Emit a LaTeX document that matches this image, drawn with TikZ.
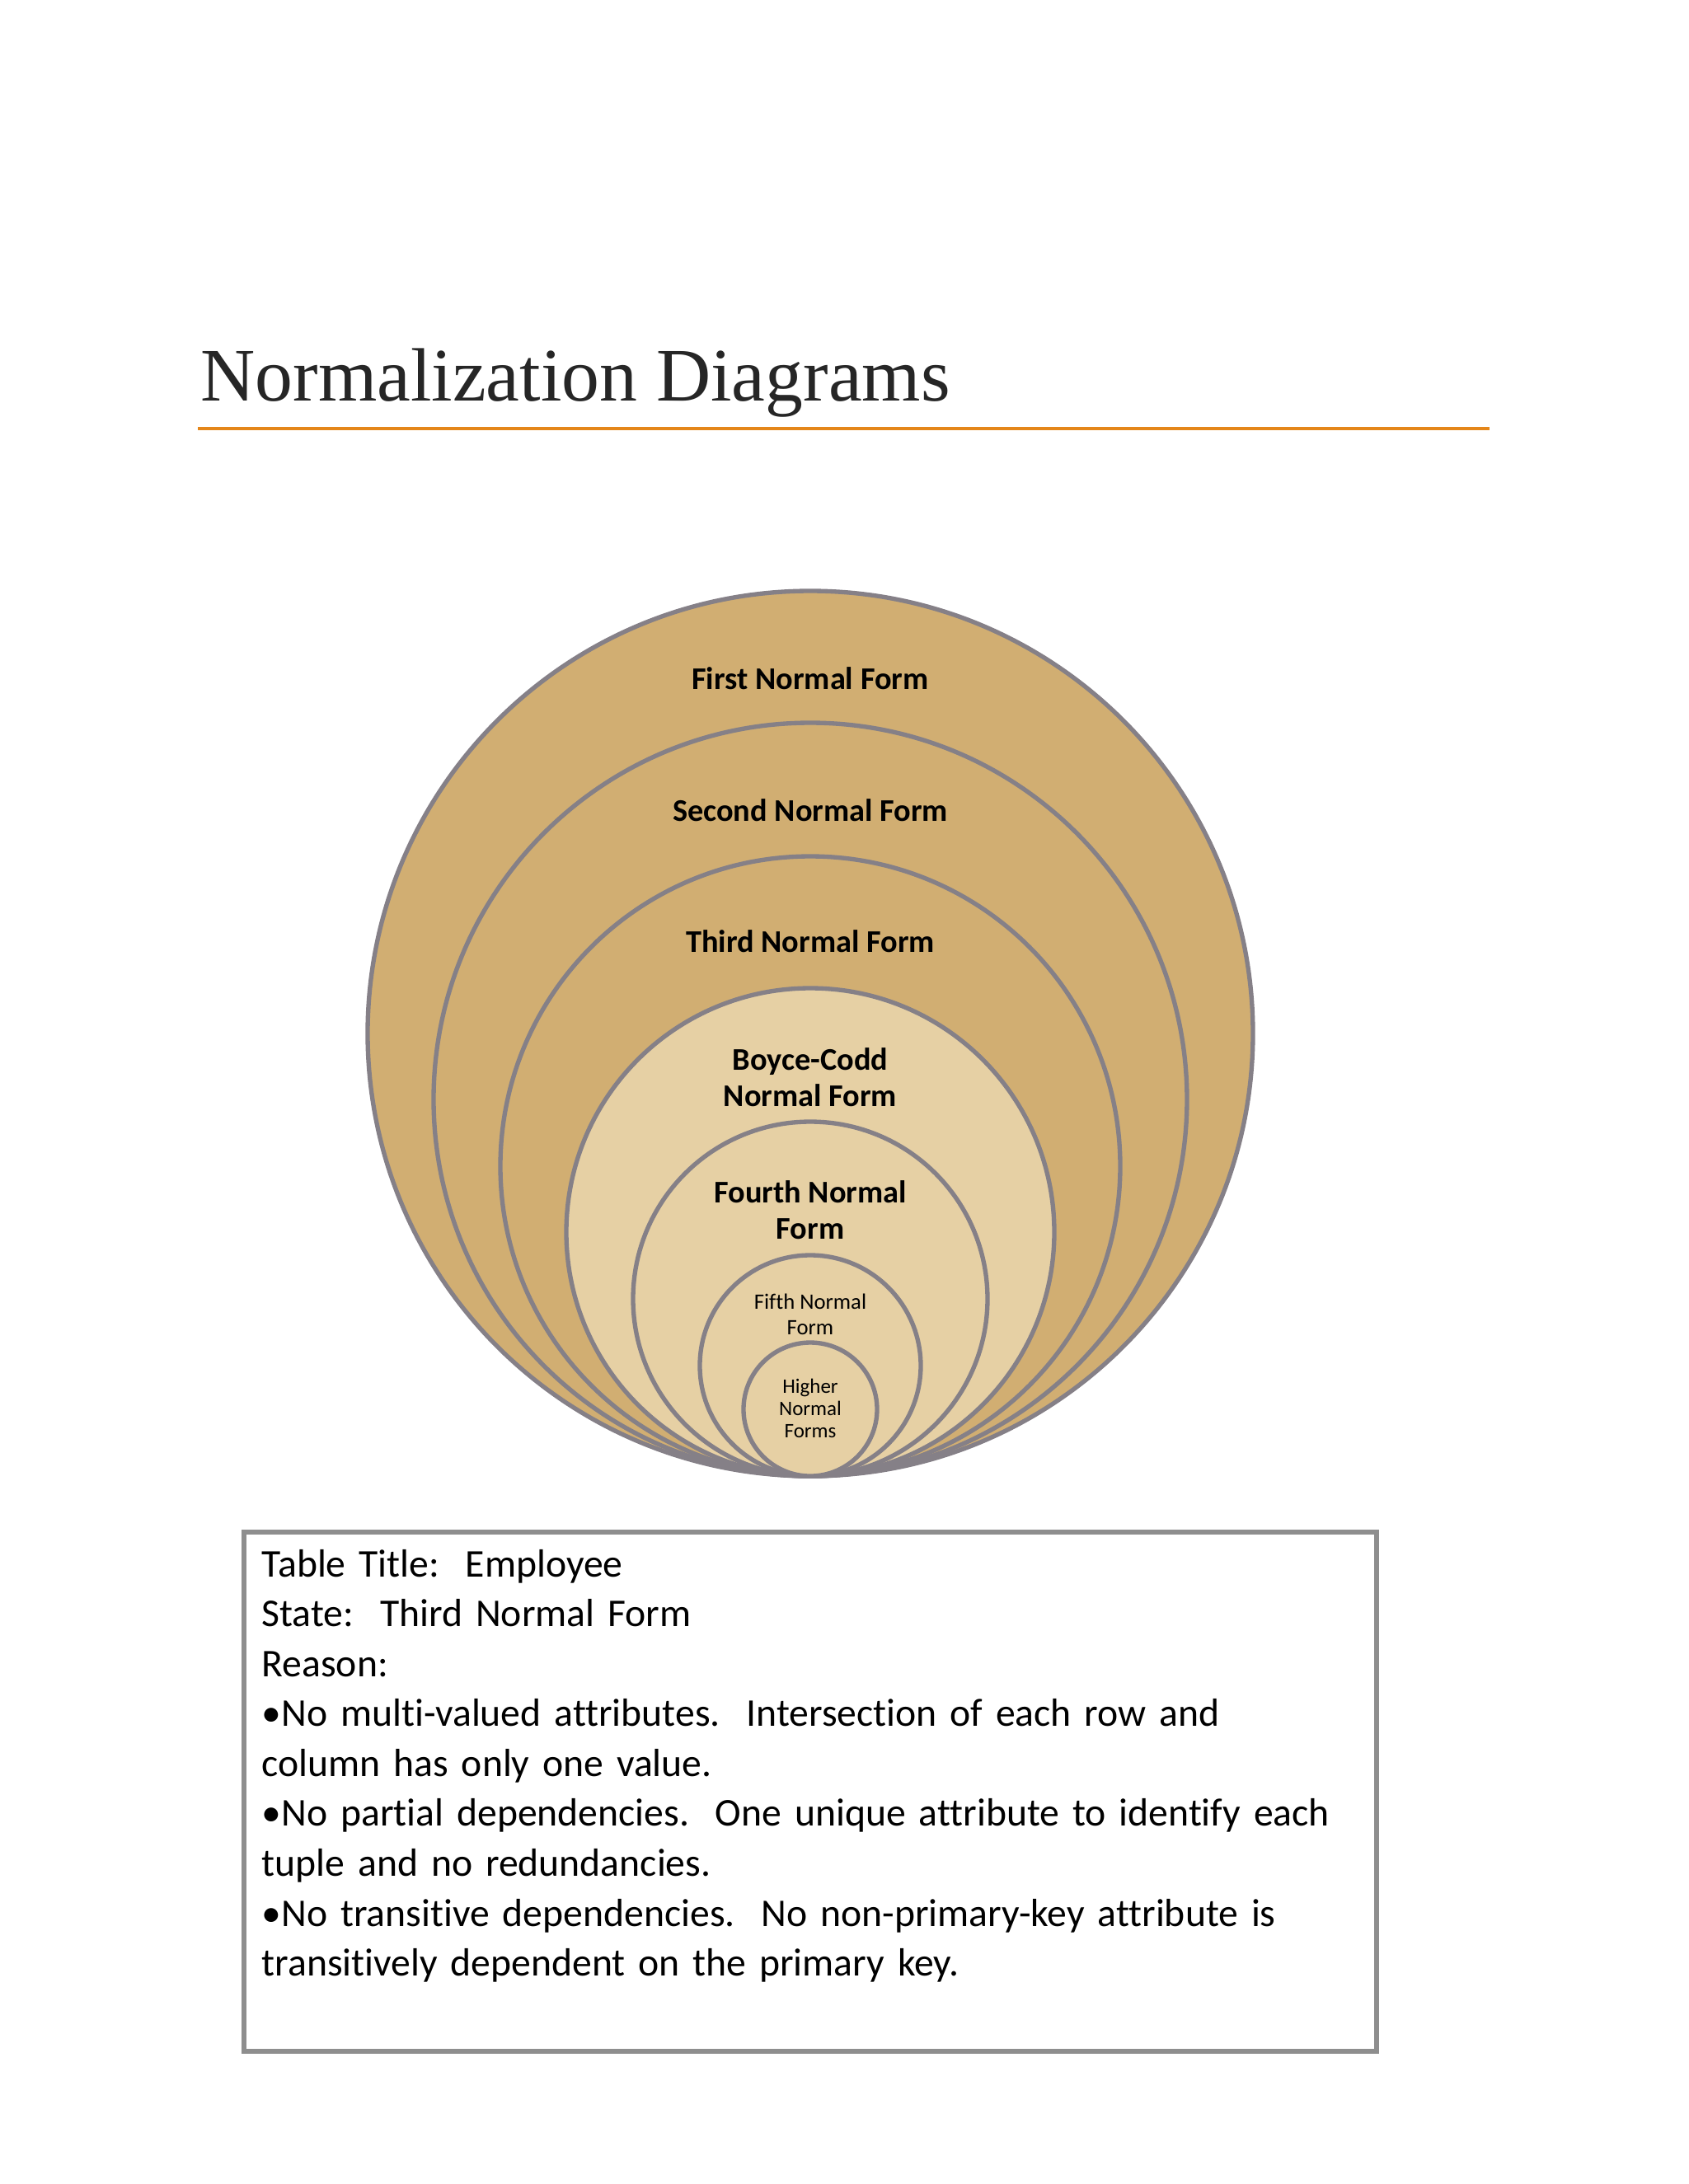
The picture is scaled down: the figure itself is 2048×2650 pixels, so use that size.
\documentclass[tikz,border=0pt]{standalone}
\usepackage{fontspec}
\newfontfamily\headfont{Liberation Serif}
\newfontfamily\bodyfont[Ligatures=NoCommon]{Carlito}
\definecolor{ruleorange}{HTML}{E4861A}
\definecolor{tandark}{HTML}{D1AE72}
\definecolor{tanlight}{HTML}{E6D0A4}
\definecolor{ringgray}{HTML}{858087}
\definecolor{boxgray}{HTML}{8E8E8E}

\begin{document}
\begin{tikzpicture}[x=0.0041504in, y=-0.0041504in,
		ring/.style={draw=ringgray, line width=1.6pt},
		lbl/.style={inner sep=0pt, align=center, font=\bodyfont\bfseries\fontsize{11.5}{13}\selectfont},
		smalllbl/.style={inner sep=0pt, align=center, font=\bodyfont\fontsize{8}{9.4}\selectfont},
		tinylbl/.style={inner sep=0pt, align=center, font=\bodyfont\fontsize{7.5}{8}\selectfont},
		infobox/.style={draw=boxgray, line width=1.8pt}]
	\useasboundingbox (0,0) rectangle (2048,2650);
	\pgfmathsetmacro{\cx}{983}
	\pgfmathsetmacro{\by}{1791}

	% heading
	\node[anchor=base west, inner sep=0pt, font=\headfont\fontsize{27.5}{30}\selectfont, text=black!85] (title) at (243,486) {Normalization Diagrams};
	\draw[ruleorange, line width=1pt] (240,520) coordinate (ruleL) -- (1807,520) coordinate (ruleR);

	% nested forms, all touching at the bottom
	\draw[ring, fill=tandark] (\cx,\by-537) circle (537);
	\draw[ring, fill=tandark] (\cx,\by-457) circle (457);
	\draw[ring, fill=tandark] (\cx,\by-376) circle (376);
	\draw[ring, fill=tanlight] (\cx,\by-296) circle (296);
	\draw[ring, fill=tanlight] (\cx,\by-215) circle (215);
	\draw[ring, fill=tanlight] (\cx,\by-134) circle (134);
	\draw[ring, fill=tanlight] (\cx,\by-81) circle (81);

	\node[lbl] (first) at (\cx,823) {First Normal Form};
	\node[lbl] (second) at (\cx,983) {Second Normal Form};
	\node[lbl] (third) at (\cx,1142) {Third Normal Form};
	\node[lbl] (bcnf) at (\cx,1307) {Boyce-Codd\\Normal Form};
	\node[lbl] (fourth) at (\cx,1468) {Fourth Normal\\Form};
	\node[smalllbl] (fifth) at (\cx,1595) {Fifth Normal\\Form};
	\node[tinylbl] (higher) at (\cx,1709) {Higher\\Normal\\Forms};

	% reason box
	\draw[infobox] (296,1859) rectangle (1670,2489);
	\node[anchor=base west, inner sep=0pt, text width=1340, align=left,
		font=\bodyfont\frenchspacing\fontsize{14.3}{18.17}\selectfont] (reason) at (317,1913)
		{Table Title:~ Employee\\
		State:~ Third Normal Form\\
		Reason:\\
		•No multi-valued attributes.~ Intersection of each row and\\
		column has only one value.\\
		•No partial dependencies.~ One unique attribute to identify each\\
		tuple and no redundancies.\\
		•No transitive dependencies.~ No non-primary-key attribute is\\
		transitively dependent on the primary key.};
\end{tikzpicture}
\end{document}
